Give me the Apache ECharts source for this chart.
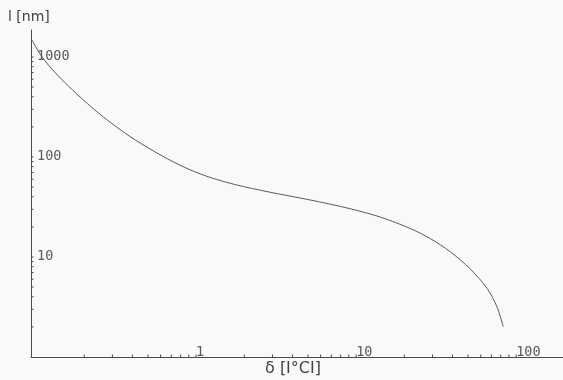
<!DOCTYPE html>
<html>
<head>
<meta charset="utf-8">
<script src="https://cdn.jsdelivr.net/npm/echarts@6/dist/echarts.min.js"></script>
<style>
html,body{margin:0;padding:0;background:#f9f9f7;}
#c{width:563px;height:380px;}
</style>
</head>
<body>
<div id="c"></div>
<script>
// Curve values (log-log)
const deltaValues = [0.0944, 0.1059, 0.1223, 0.1518, 0.1884, 0.2337, 0.2901, 0.387, 0.5158, 0.6879, 0.9173, 1.223, 1.753, 2.901, 5.158, 9.173, 14.13, 21.76, 29.01, 38.68, 51.58, 65.89, 76.06, 82.95];
const lengthValues = [1479, 1072, 794, 553, 398, 294, 223, 160, 120.2, 92.9, 74.5, 62.5, 53.0, 44.4, 37.2, 30.4, 25.1, 19.3, 15.3, 11.3, 7.6, 4.84, 3.13, 2.01];

// Tick labels
const xTickValues = [1, 10, 100];
const xTickLabels = ['1', '10', '100'];
const yTickValues = [10, 100, 1000];
const yTickLabels = ['10', '100', '1000'];

// Minor tick positions
const xMinorTicks = [0.2,0.3,0.4,0.5,0.6,0.7,0.8,0.9,1,2,3,4,5,6,7,8,9,10,20,30,40,50,60,70,80,90,100];
const yMinorTicks = [2,3,4,5,6,7,8,9,10,20,30,40,50,60,70,80,90,100,200,300,400,500,600,700,800,900,1000];

const xMin = 0.093, xMax = 196, yMin = 1, yMax = 1862;

function lookup(vals, labels, v) {
  for (let i = 0; i < vals.length; i++) {
    if (Math.abs(v - vals[i]) / vals[i] < 1e-6) return labels[i];
  }
  return '';
}

const chart = echarts.init(document.getElementById('c'), null, {renderer: 'canvas'});
const axisColor = '#4a4a4a';
const labelFont = {fontFamily: 'DejaVu Sans Mono', fontSize: 13.5, color: '#5a5a5a'};

chart.setOption({
  backgroundColor: '#f9f9f7',
  animation: false,
  grid: {left: 31, right: 0, top: 30, bottom: 23, containLabel: false},
  xAxis: {
    type: 'log', min: xMin, max: xMax, logBase: 10,
    axisLine: {show: true, lineStyle: {color: axisColor, width: 1}},
    axisTick: {show: false},
    splitLine: {show: false},
    axisLabel: Object.assign({
      inside: true, margin: -2, align: 'left', verticalAlign: 'bottom',
      showMinLabel: false, showMaxLabel: false,
      formatter: v => lookup(xTickValues, xTickLabels, v)
    }, labelFont)
  },
  yAxis: {
    type: 'log', min: yMin, max: yMax, logBase: 10,
    axisLine: {show: true, lineStyle: {color: axisColor, width: 1}},
    axisTick: {show: false},
    splitLine: {show: false},
    axisLabel: Object.assign({
      inside: true, margin: 6, align: 'left', verticalAlign: 'middle',
      padding: [8, 0, 0, 0],
      showMinLabel: false, showMaxLabel: false,
      formatter: v => lookup(yTickValues, yTickLabels, v)
    }, labelFont)
  },
  graphic: [
    {type: 'text', left: 8, top: 10, style: {text: 'l [nm]', font: '14px "DejaVu Sans"', fill: '#444'}},
    {type: 'text', left: 265, top: 361, style: {text: 'δ [I°CI]', font: '16px "DejaVu Sans"', fill: '#444'}}
  ],
  series: [
    {
      type: 'line',
      data: deltaValues.map((x, i) => [x, lengthValues[i]]),
      showSymbol: false,
      smooth: 0.3,
      lineStyle: {color: '#5a5a5a', width: 1},
      silent: true
    },
    {
      type: 'custom',
      silent: true,
      clip: false,
      data: xMinorTicks.map(v => [v, yMin]),
      renderItem: function (params, api) {
        const p = api.coord([api.value(0), api.value(1)]);
        return {type: 'line', shape: {x1: p[0], y1: p[1] + 0.5, x2: p[0], y2: p[1] - 2.5},
          style: {stroke: axisColor, lineWidth: 1}};
      }
    },
    {
      type: 'custom',
      silent: true,
      clip: false,
      data: yMinorTicks.map(v => [xMin, v]),
      renderItem: function (params, api) {
        const p = api.coord([api.value(0), api.value(1)]);
        return {type: 'line', shape: {x1: p[0], y1: p[1], x2: p[0] + 2.5, y2: p[1]},
          style: {stroke: axisColor, lineWidth: 1}};
      }
    }
  ]
});
</script>
</body>
</html>
